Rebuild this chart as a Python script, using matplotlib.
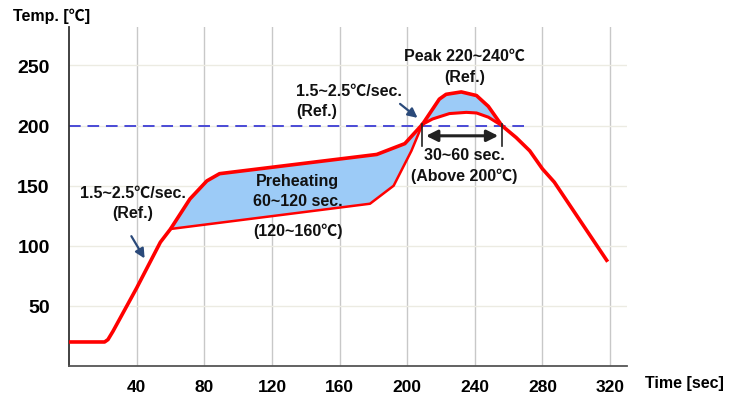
import matplotlib
matplotlib.use("Agg")
import matplotlib.pyplot as plt

FAMILY = ['Liberation Sans', 'Noto Sans CJK KR', 'DejaVu Sans']
plt.rcParams['font.family'] = FAMILY

# profile data (time [sec], temperature [C])
ramp_t = [0, 21, 23, 26, 40, 54, 60]
ramp_T = [20, 20, 22, 29, 65, 103, 114]

pre_up_t = [60, 71.5, 81.5, 89, 182, 198.6, 209]
pre_up_T = [114, 139, 154, 160, 176, 185, 201]

pre_lo_t = [60, 178, 192, 202.5, 209]
pre_lo_T = [114, 135, 150, 179, 201]

peak_up_t = [209, 219, 223, 232, 241, 248, 256]
peak_up_T = [201, 222, 226, 228, 225, 216, 200]

peak_lo_t = [209, 215, 225, 235, 241, 248, 256]
peak_lo_T = [201, 205.5, 210, 211, 210.5, 207, 200]

cool_t = [256, 264.5, 272.5, 280, 287, 318]
cool_T = [200, 190, 179, 164, 153, 88]

x_ticks = [40, 80, 120, 160, 200, 240, 280, 320]
y_ticks = [50, 100, 150, 200, 250]

RED = '#ff0000'
BLUE_FILL = '#9ccbf7'
ARROW = '#2b4a7a'

fig = plt.figure(figsize=(7.35, 4.06), dpi=100)
ax = fig.add_axes([0.094, 0.096, 0.759, 0.835])
ax.set_xlim(0, 330)
ax.set_ylim(0, 282)

# grid
for x in x_ticks:
    ax.axvline(x, color='#c8c8c8', lw=1, zorder=0)
for y in y_ticks:
    ax.axhline(y, color='#ecebe2', lw=1, zorder=0)

# shaded windows
ax.fill(pre_up_t + pre_lo_t[::-1], pre_up_T + pre_lo_T[::-1],
        color=BLUE_FILL, lw=0, zorder=1)
ax.fill(peak_up_t + peak_lo_t[::-1], peak_up_T + peak_lo_T[::-1],
        color=BLUE_FILL, lw=0, zorder=1)

# 200 C reference line
ax.plot([0, 271], [200, 200], color='#4a4ad6', lw=1.4, ls=(0, (6, 3.5)), zorder=2)

# red profile curves
ax.plot(ramp_t + pre_up_t[1:], ramp_T + pre_up_T[1:], color=RED, lw=2.6, zorder=3,
        solid_joinstyle='round')
ax.plot(pre_lo_t, pre_lo_T, color=RED, lw=1.8, zorder=3)
ax.plot(peak_up_t + cool_t[1:], peak_up_T + cool_T[1:], color=RED, lw=2.6, zorder=3,
        solid_joinstyle='round')
ax.plot(peak_lo_t, peak_lo_T, color=RED, lw=2.2, zorder=3)

# 30~60 sec span marker
ax.plot([209, 209], [183, 201], color='#222222', lw=1.2, zorder=4)
ax.plot([256, 256], [183, 201], color='#222222', lw=1.2, zorder=4)
ax.annotate('', xy=(209.5, 191.5), xytext=(255.5, 191.5),
            arrowprops=dict(arrowstyle='<|-|>', color='#222222', lw=2.2,
                            mutation_scale=17), zorder=4)

# slope arrows
ax.annotate('', xy=(45.5, 87.5), xytext=(36, 110),
            arrowprops=dict(arrowstyle='-|>', color=ARROW, lw=1.6,
                            mutation_scale=14))
ax.annotate('', xy=(207.4, 205), xytext=(194.5, 219.5),
            arrowprops=dict(arrowstyle='-|>', color=ARROW, lw=1.6,
                            mutation_scale=14))

txt = dict(fontsize=11.5, fontweight='bold', color='#111111', zorder=5)
ax.text(37.5, 144.7, '1.5~2.5℃/sec.', ha='center', va='center', **txt)
ax.text(37.5, 128, '(Ref.)', ha='center', va='center', **txt)
ax.text(134.5, 229, '1.5~2.5℃/sec.', ha='left', va='center', **txt)
ax.text(134.5, 212.5, '(Ref.)', ha='left', va='center', **txt)
ax.text(135.3, 154.2, 'Preheating', ha='center', va='center', **txt)
ax.text(135.3, 137.5, '60~120 sec.', ha='center', va='center', **txt)
ax.text(135.3, 112.5, '(120~160℃)', ha='center', va='center', **txt)
ax.text(234, 258.3, 'Peak 220~240℃', ha='center', va='center', **txt)
ax.text(234, 240.6, '(Ref.)', ha='center', va='center', **txt)
ax.text(234, 175.6, '30~60 sec.', ha='center', va='center', **txt)
ax.text(234, 159, '(Above 200℃)', ha='center', va='center', **txt)

# axes styling
for s in ['top', 'right']:
    ax.spines[s].set_visible(False)
ax.spines['left'].set_color('#333333')
ax.spines['bottom'].set_color('#555555')
ax.spines['left'].set_linewidth(1.3)
ax.spines['bottom'].set_linewidth(1.3)
ax.set_xticks(x_ticks)
ax.set_yticks(y_ticks)
ax.tick_params(length=0)
ax.tick_params(axis='y', pad=14, labelsize=14)
ax.tick_params(axis='x', pad=9, labelsize=12.5)
for lab in ax.get_xticklabels() + ax.get_yticklabels():
    lab.set_fontweight('bold')

fig.text(13 / 735, 1 - 16 / 406, 'Temp. [℃]', ha='left', va='center',
         fontsize=11.5, fontweight='bold')
fig.text(645 / 735, 1 - 384 / 406, 'Time [sec]', ha='left', va='center',
         fontsize=11.5, fontweight='bold')

fig.savefig('out.png', dpi=100)
